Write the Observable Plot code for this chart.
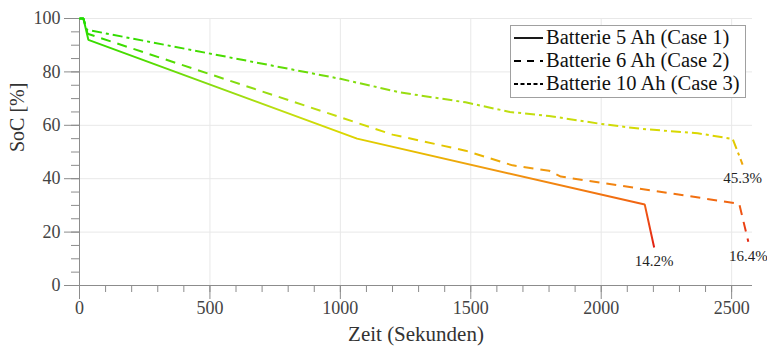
<!DOCTYPE html>
<html>
<head>
<meta charset="utf-8">
<script src="https://cdn.jsdelivr.net/npm/d3@7"></script>
<script src="https://cdn.jsdelivr.net/npm/@observablehq/plot@0.6"></script>
<style>
  html, body { margin: 0; padding: 0; background: #fff; }
  #wrap { position: relative; width: 767px; height: 350px; }
  #wrap svg text { font-family: "Liberation Serif", "Times New Roman", Tinos, "DejaVu Serif", serif !important; }
  #legend { position: absolute; left: 510px; top: 25px; width: 234px; height: 71px;
    border: 1px solid #a0a0a0; background: #fff; font-family: "Liberation Serif", "Times New Roman", Tinos, "DejaVu Serif", serif;
    font-size: 20.5px; color: #111; padding: 0; box-sizing: content-box; }
  #legend .row { display: flex; align-items: center; height: 23px; line-height: 23px; white-space: nowrap; }
  #legend svg { margin-left: 3px; margin-right: 3px; }
</style>
</head>
<body>
<div id="wrap"><div id="legend"></div></div>
<script>
// ---- data ----
const seriesNames = ["Batterie 5 Ah (Case 1)", "Batterie 6 Ah (Case 2)", "Batterie 10 Ah (Case 3)"];
const time1 = [0, 15, 34, 1064, 2167, 2203];
const soc1  = [100, 100, 92, 55, 30.3, 14.2];
const time2 = [0, 15, 31, 1000, 1200, 1480, 1660, 1800, 1845, 2529, 2564];
const soc2  = [100, 100, 94.3, 63, 56.5, 50.5, 45, 43, 40.8, 30.6, 16.4];
const time3 = [0, 15, 28, 1000, 1230, 1480, 1650, 1800, 2000, 2150, 2370, 2504, 2542];
const soc3  = [100, 100, 95.8, 77.4, 72.3, 68.6, 65, 63.5, 60.5, 58.7, 57, 54.9, 45.3];
const xMajorTicks = [0, 500, 1000, 1500, 2000, 2500];
const yMajorTicks = [0, 20, 40, 60, 80, 100];
const xMinorTicks = d3.range(0, 2600, 100);
const yMinorTicks = d3.range(0, 101, 5);

// ---- styles ----
const serif = "'Liberation Serif', 'Times New Roman', Tinos, 'DejaVu Serif', serif";
const socColors = [[100,"#1fdc00"],[85,"#4cdc00"],[75,"#88dc10"],[65,"#c0de10"],[57,"#dad800"],[50,"#e8bc00"],[44,"#f09c10"],[35,"#f27810"],[28,"#ef5614"],[18,"#e63014"],[12,"#dc1010"],[0,"#d00000"]];
const dashes = [null, "10,7", "10,4,3,4"];
const legendDashes = [null, "7,6", "4,2.5"];
const axisColor = "#8c8c8c";
const gridColor = "#e8e8e8";
const textColor = "#444";

const toRows = (t, s) => t.map((x, i) => ({t: x, soc: s[i]}));
const series = [toRows(time1, soc1), toRows(time2, soc2), toRows(time3, soc3)];
const ends = series.map(s => s[s.length - 1]);
const fmt = d3.format("d");

const plot = Plot.plot({
  width: 767, height: 350,
  marginLeft: 79, marginRight: 15, marginTop: 18, marginBottom: 65,
  style: {fontFamily: serif, fontSize: "18px", color: textColor, background: "transparent"},
  x: {domain: [0, 2580], axis: null},
  y: {domain: [0, 100], axis: null},
  marks: [
    Plot.ruleY(yMajorTicks.filter(d => d > 0), {stroke: gridColor, strokeWidth: 1}),
    Plot.ruleX(xMajorTicks.filter(d => d > 0), {stroke: gridColor, strokeWidth: 1}),
    Plot.axisX(xMinorTicks, {anchor: "bottom", tickSize: 7, text: null, stroke: axisColor, label: null}),
    Plot.axisX(xMajorTicks, {anchor: "bottom", tickSize: 14, tickPadding: 2, tickFormat: fmt, stroke: axisColor, fill: textColor, fontSize: 18, fontFamily: serif, label: null}),
    Plot.axisY(yMinorTicks, {anchor: "left", tickSize: 8, text: null, stroke: axisColor, label: null}),
    Plot.axisY(yMajorTicks, {anchor: "left", tickSize: 15, tickPadding: 4, tickFormat: fmt, stroke: axisColor, fill: textColor, fontSize: 18, fontFamily: serif, label: null}),
    Plot.ruleY([0], {stroke: axisColor}),
    Plot.ruleX([0], {stroke: axisColor}),
    ...series.map((s, i) => Plot.line(s, {x: "t", y: "soc", stroke: "url(#socGrad)", strokeWidth: 2,
      strokeDasharray: dashes[i], strokeLinejoin: "miter", strokeLinecap: "butt"})),
    Plot.text(ends, {x: "t", y: "soc", text: d => `${d.soc.toFixed(1)}%`, dy: 14, fontSize: 15, fontFamily: serif, fill: "#222"}),
    Plot.text(["Zeit (Sekunden)"], {frameAnchor: "bottom", dy: 55, fontSize: 21, fontFamily: serif, fill: "#333"}),
    Plot.text(["SoC [%]"], {frameAnchor: "left", dx: -62, rotate: -90, fontSize: 20, fontFamily: serif, fill: "#333"})
  ]
});

// gradient following the SoC value (vertical), positioned with the y scale
const ys = plot.scale("y");
const defs = d3.select(plot).insert("defs", ":first-child");
const grad = defs.append("linearGradient").attr("id", "socGrad")
  .attr("gradientUnits", "userSpaceOnUse")
  .attr("x1", 0).attr("x2", 0)
  .attr("y1", ys.apply(100)).attr("y2", ys.apply(0));
socColors.forEach(([v, c]) => grad.append("stop").attr("offset", (100 - v) / 100).attr("stop-color", c));

document.getElementById("wrap").insertBefore(plot, document.getElementById("legend"));

// legend
const leg = d3.select("#legend");
seriesNames.forEach((name, i) => {
  const row = leg.append("div").attr("class", "row");
  const svg = row.append("svg").attr("width", 29).attr("height", 6);
  svg.append("line").attr("x1", 0).attr("x2", 29).attr("y1", 3).attr("y2", 3)
    .attr("stroke", "#000").attr("stroke-width", 1.8)
    .attr("stroke-dasharray", legendDashes[i]);
  row.append("span").text(name);
});
</script>
</body>
</html>
